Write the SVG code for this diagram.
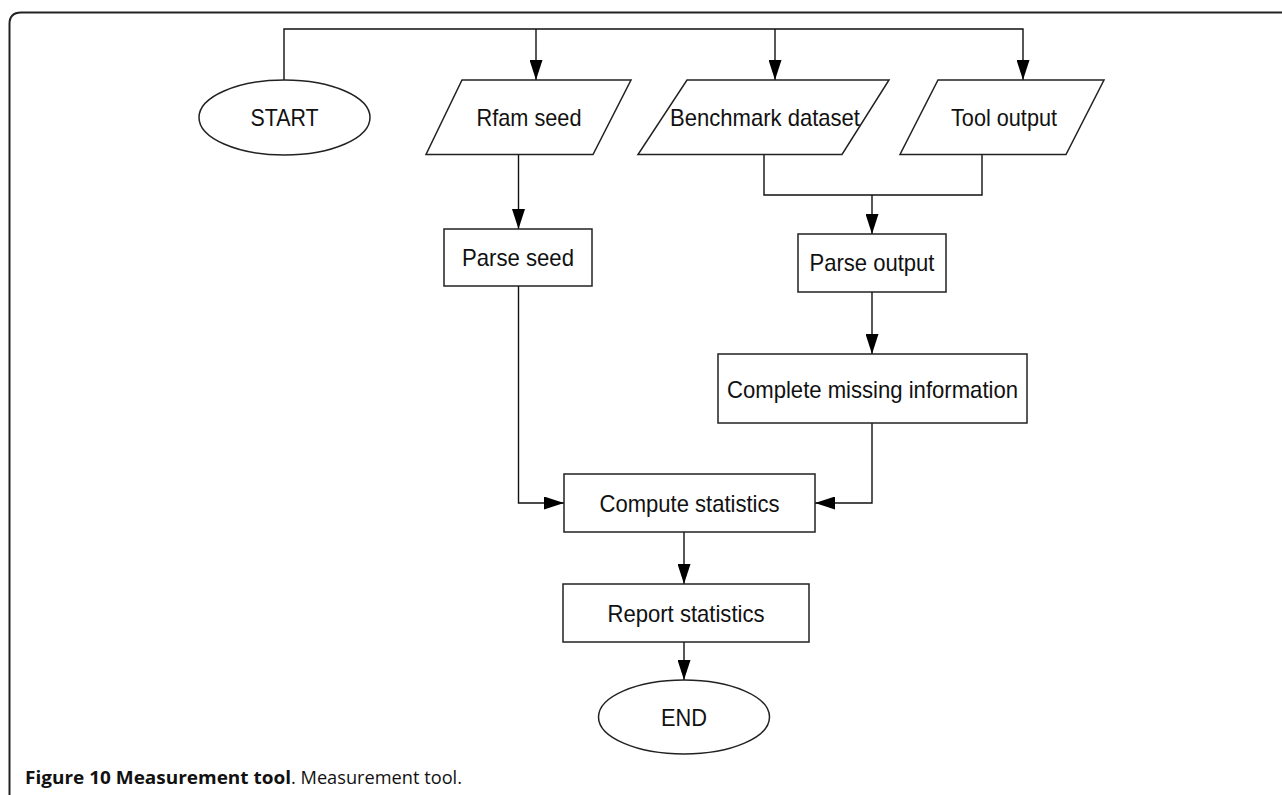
<svg xmlns="http://www.w3.org/2000/svg" width="1282" height="795" viewBox="0 0 1282 795">
<style>
.shape{fill:#fff;stroke:#222;stroke-width:1.5}
.lbl{font-family:"Liberation Sans",Arial,sans-serif;font-size:24px;fill:#111;text-anchor:middle}
.conn{fill:none;stroke:#111;stroke-width:1.4}
.cap{font-family:"Open Sans","Noto Sans",sans-serif;font-size:18px;fill:#111}
</style>
<defs>
<marker id="arr" markerUnits="userSpaceOnUse" markerWidth="20" markerHeight="13" refX="20" refY="6.5" orient="auto">
<path d="M0,0 L20,6.5 L0,13 z" fill="#000"/>
</marker>
</defs>
<path d="M9.5,795 V24 Q9.5,12.5 21,12.5 H1282" fill="none" stroke="#222" stroke-width="2"/>
<g id="connectors">
<path class="conn" d="M284,80 V29 H1023 V80" marker-end="url(#arr)"/>
<path class="conn" d="M536,29 V80" marker-end="url(#arr)"/>
<path class="conn" d="M775,29 V80" marker-end="url(#arr)"/>
<path class="conn" d="M518.5,154 V229" marker-end="url(#arr)"/>
<path class="conn" d="M764,154 V195 H982 V154"/>
<path class="conn" d="M872,195 V234" marker-end="url(#arr)"/>
<path class="conn" d="M872,292 V354" marker-end="url(#arr)"/>
<path class="conn" d="M518.5,286 V503 H564" marker-end="url(#arr)"/>
<path class="conn" d="M872,423 V503 H815" marker-end="url(#arr)"/>
<path class="conn" d="M684,532 V584" marker-end="url(#arr)"/>
<path class="conn" d="M684,642 V680" marker-end="url(#arr)"/>
</g>
<g id="start">
<ellipse class="shape" cx="284.5" cy="117.5" rx="85.5" ry="37.5"/>
<text class="lbl" x="284.5" y="125.5" textLength="68" lengthAdjust="spacingAndGlyphs">START</text>
</g>
<g id="rfam-seed">
<polygon class="shape" points="462,80 631,80 593,154.5 426,154.5"/>
<text class="lbl" x="529" y="125.5" textLength="105" lengthAdjust="spacingAndGlyphs">Rfam seed</text>
</g>
<g id="benchmark-dataset">
<polygon class="shape" points="687,80 889,80 842,154.5 638,154.5"/>
<text class="lbl" x="765" y="125.5" textLength="190" lengthAdjust="spacingAndGlyphs">Benchmark dataset</text>
</g>
<g id="tool-output">
<polygon class="shape" points="938,80 1104,80 1066,154.5 900,154.5"/>
<text class="lbl" x="1004" y="125.5" textLength="106" lengthAdjust="spacingAndGlyphs">Tool output</text>
</g>
<g id="parse-seed">
<rect class="shape" x="444" y="229" width="148" height="57"/>
<text class="lbl" x="518" y="265.5" textLength="112" lengthAdjust="spacingAndGlyphs">Parse seed</text>
</g>
<g id="parse-output">
<rect class="shape" x="798" y="234" width="148" height="58"/>
<text class="lbl" x="872" y="270.5" textLength="125" lengthAdjust="spacingAndGlyphs">Parse output</text>
</g>
<g id="complete-missing">
<rect class="shape" x="718" y="354" width="309" height="69"/>
<text class="lbl" x="872.5" y="397.5" textLength="291" lengthAdjust="spacingAndGlyphs">Complete missing information</text>
</g>
<g id="compute-statistics">
<rect class="shape" x="564" y="474" width="251" height="58"/>
<text class="lbl" x="689.5" y="511.5" textLength="180" lengthAdjust="spacingAndGlyphs">Compute statistics</text>
</g>
<g id="report-statistics">
<rect class="shape" x="563" y="584" width="246" height="58"/>
<text class="lbl" x="686" y="621.5" textLength="157" lengthAdjust="spacingAndGlyphs">Report statistics</text>
</g>
<g id="end">
<ellipse class="shape" cx="684" cy="717" rx="85.5" ry="37"/>
<text class="lbl" x="684" y="725.5" textLength="46" lengthAdjust="spacingAndGlyphs">END</text>
</g>
<text class="cap" x="25" y="784"><tspan font-weight="bold" textLength="266" lengthAdjust="spacingAndGlyphs">Figure 10 Measurement tool</tspan><tspan textLength="171" lengthAdjust="spacingAndGlyphs">. Measurement tool.</tspan></text>
</svg>
